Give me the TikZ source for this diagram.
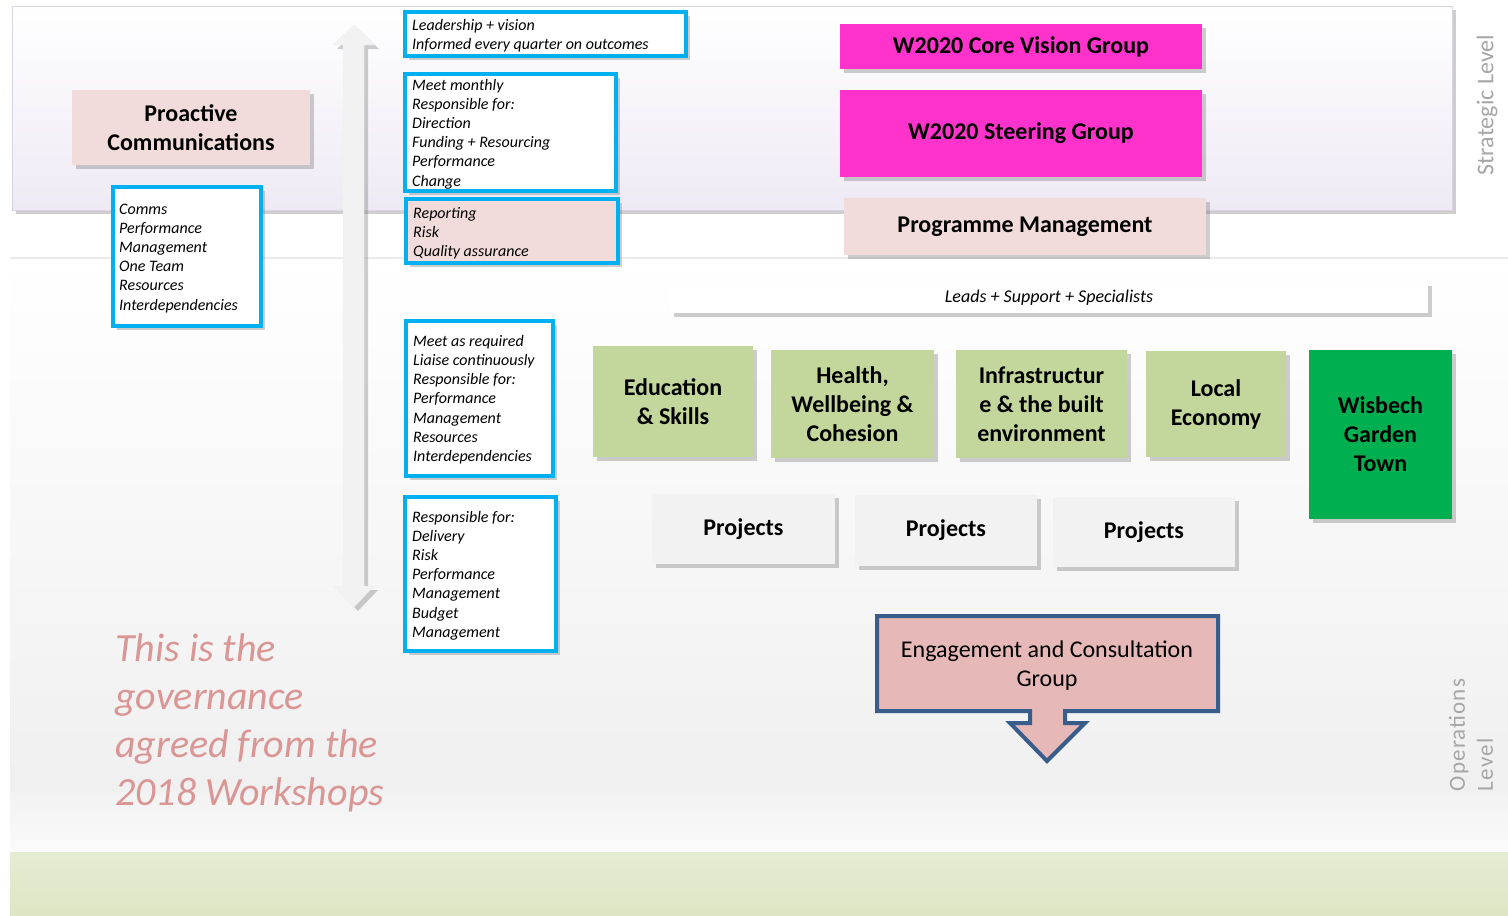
\documentclass[tikz,border=0pt]{standalone}
\usepackage{fontspec}
\setmainfont{Carlito}
\newfontfamily\spacedfont[LetterSpace=5]{Carlito}
\usetikzlibrary{shadows}
\definecolor{cyanb}{HTML}{00B0F0}
\definecolor{pinkl}{HTML}{F2DCDB}
\definecolor{magen}{HTML}{FF33CC}
\definecolor{greenl}{HTML}{C3D69B}
\definecolor{greend}{HTML}{00B050}
\definecolor{projg}{HTML}{F2F2F2}
\definecolor{engf}{HTML}{E6B8B7}
\definecolor{engb}{HTML}{385D8A}
\definecolor{govt}{HTML}{D99694}
\definecolor{lvl}{HTML}{A6A6A6}
\definecolor{lav}{HTML}{EEEAF5}
\definecolor{lavb}{HTML}{D8D2E4}
\definecolor{bandg}{HTML}{DCE6C4}
\begin{document}
\begin{tikzpicture}[x=1pt,y=-1pt,
  shd/.style={drop shadow={shadow xshift=4pt,shadow yshift=-4pt,opacity=0.35,fill=black!55}},
  solidbox/.style={shd,inner sep=2pt,align=center},
  headf/.style={font=\fontsize{24}{29}\selectfont\bfseries},
  bluebox/.style={shd,draw=cyanb,line width=4.5pt},
  lst/.style={anchor=base west,inner sep=0,font=\fontsize{16}{18}\selectfont\itshape},
  lvltext/.style={text=lvl,font=\fontsize{24}{28}\selectfont,rotate=90,align=left}]
\useasboundingbox (0,0) rectangle (1508,916);
\fill[white] (0,0) rectangle (1508,916);
% operations band
\shade[top color=white,bottom color=black!6] (10,258) rectangle (1508,792);
\shade[top color=black!5,bottom color=black!2] (10,792) rectangle (1508,850);
\draw[black!8,line width=1.5pt] (10,258) -- (1508,258);
% bottom green band
\shade[top color=bandg!75,bottom color=bandg] (10,852) rectangle (1508,916);
% strategic band
\shade[shd,top color=white,bottom color=lav,draw=lavb,line width=1pt] (12,6) rectangle (1452,210);
% level labels
\node[lvltext] (strat) at (1487,105) {Strategic Level};
\node[lvltext,font=\fontsize{23}{28}\spacedfont] (oper) at (1471,735) {Operations\\Level};
% vertical double arrow
\filldraw[shd,fill=projg,draw=black!6] (354,25) -- (375,45) -- (364,45) -- (364,586) -- (374,586)
  -- (354,607) -- (334,586) -- (343,586) -- (343,45) -- (333,45) -- cycle;
% left side
\node[solidbox,headf,fill=pinkl,minimum width=238pt,minimum height=75pt] (proact) at (191,127.5) {Proactive\\Communications};
\node[bluebox,fill=white,minimum width=148pt,minimum height=139pt] (comms) at (187,256.5) {};
\foreach \t [count=\i] in {Comms,Performance,Management,One Team,Resources,Interdependencies}
  \node[lst] (comms-\i) at (119,{214+19.2*(\i-1)}) {\t};
% blue text boxes
\node[bluebox,fill=white,minimum width=281pt,minimum height=44pt] (lead) at (545.5,34) {};
\foreach \t [count=\i] in {Leadership + vision,Informed every quarter on outcomes}
  \node[lst] (lead-\i) at (412,{30+19.2*(\i-1)}) {\t};
\node[bluebox,fill=white,minimum width=211pt,minimum height=117pt] (meet) at (510.5,132.5) {};
\foreach \t [count=\i] in {Meet monthly,Responsible for:,Direction,Funding + Resourcing,Performance,Change}
  \node[lst] (meet-\i) at (412,{90+19.2*(\i-1)}) {\t};
\node[bluebox,fill=pinkl,minimum width=212pt,minimum height=64pt] (rep) at (512,231) {};
\foreach \t [count=\i] in {Reporting,Risk,Quality assurance}
  \node[lst] (rep-\i) at (413,{218+19.2*(\i-1)}) {\t};
\node[bluebox,fill=white,minimum width=147pt,minimum height=155pt] (req) at (479.5,398.5) {};
\foreach \t [count=\i] in {Meet as required,Liaise continuously,Responsible for:,Performance,Management,Resources,Interdependencies}
  \node[lst] (req-\i) at (413,{346+19.3*(\i-1)}) {\t};
\node[bluebox,fill=white,minimum width=151pt,minimum height=154pt] (resp) at (480.5,574) {};
\foreach \t [count=\i] in {Responsible for:,Delivery,Risk,Performance,Management,Budget,Management}
  \node[lst] (resp-\i) at (412,{522+19.2*(\i-1)}) {\t};
% strategic boxes
\node[solidbox,headf,fill=magen,minimum width=362pt,minimum height=45pt] (core) at (1021,46.5) {W2020 Core Vision Group};
\node[solidbox,headf,fill=magen,minimum width=362pt,minimum height=87pt] (steer) at (1021,133.5) {W2020 Steering Group};
\node[solidbox,headf,fill=pinkl,minimum width=362pt,minimum height=57pt] (prog) at (1025,226.5) {Programme Management};
\node[solidbox,fill=white,font=\fontsize{18}{18}\selectfont\itshape,minimum width=758pt,minimum height=31pt] (leads) at (1049,297.5) {Leads + Support + Specialists};
% workstreams
\node[solidbox,headf,fill=greenl,minimum width=160pt,minimum height=111pt] (edu) at (673,401.5) {Education\\\& Skills};
\node[solidbox,headf,fill=greenl,minimum width=163pt,minimum height=108pt] (health) at (852.5,404) {Health,\\Wellbeing \&\\Cohesion};
\node[solidbox,headf,fill=greenl,minimum width=171pt,minimum height=108pt] (infra) at (1041.5,404) {Infrastructur\\e \& the built\\environment};
\node[solidbox,headf,fill=greenl,minimum width=140pt,minimum height=106pt] (local) at (1216,404) {Local\\Economy};
\node[solidbox,headf,fill=greend,minimum width=143pt,minimum height=169pt] (wis) at (1380.5,434.5) {Wisbech\\Garden\\Town};
\node[solidbox,headf,fill=projg,minimum width=183pt,minimum height=70pt] (p1) at (743.5,529) {Projects};
\node[solidbox,headf,fill=projg,minimum width=182pt,minimum height=71pt] (p2) at (946,530.5) {Projects};
\node[solidbox,headf,fill=projg,minimum width=182pt,minimum height=70pt] (p3) at (1144,532) {Projects};
% engagement callout
\filldraw[fill=engf,draw=engb,line width=4pt,line join=miter]
  (877,616) -- (1218,616) -- (1218,711) -- (1065,711) -- (1065,723) -- (1085,723)
  -- (1047,761) -- (1010,723) -- (1030,723) -- (1030,711) -- (877,711) -- cycle;
\node[align=center,font=\fontsize{24}{29}\selectfont] (eng) at (1047,666) {Engagement and Consultation\\Group};
% governance note
\node[anchor=north west,align=left,text=govt,inner sep=0,font=\fontsize{40}{48}\selectfont\itshape] (gov) at (115,634) {This is the\\governance\\agreed from the\\2018 Workshops};
\end{tikzpicture}
\end{document}
